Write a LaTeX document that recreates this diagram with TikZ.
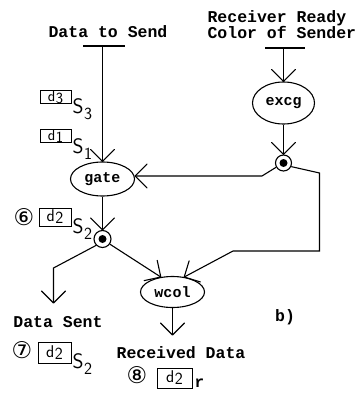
\documentclass[tikz,border=0pt]{standalone}
\usepackage{fontspec}
\setmonofont{Liberation Mono}
\newfontfamily\symfont{DejaVu Sans}
\usetikzlibrary{shapes.geometric,arrows.meta}

% plain open V head made of two straight strokes
\pgfdeclarearrow{
  name = OpenVee,
  parameters = {\the\pgfarrowlength,\the\pgfarrowwidth},
  setup code = {
    \pgfarrowssettipend{0pt}
    \pgfarrowssetlineend{-0.5\pgflinewidth}
    \pgfarrowssetvisualbackend{-\pgfarrowlength}
    \pgfarrowssetbackend{-\pgfarrowlength}
    \pgfarrowshullpoint{-\pgfarrowlength}{.5\pgfarrowwidth}
    \pgfarrowshullpoint{-\pgfarrowlength}{-.5\pgfarrowwidth}
    \pgfarrowshullpoint{0pt}{0pt}
    \pgfarrowssavethe\pgfarrowlength
    \pgfarrowssavethe\pgfarrowwidth
  },
  drawing code = {
    \pgfsetdash{}{0pt}
    \pgfsetroundjoin
    \pgfsetroundcap
    \pgfpathmoveto{\pgfqpoint{-\pgfarrowlength}{.5\pgfarrowwidth}}
    \pgfpathlineto{\pgfpointorigin}
    \pgfpathlineto{\pgfqpoint{-\pgfarrowlength}{-.5\pgfarrowwidth}}
    \pgfusepathqstroke
  },
  defaults = {length = 11pt, width = 24pt}
}

\newcommand{\tokd}[1]{d\kern0.3pt\raisebox{-0.12em}{#1}}
\newcommand{\tokS}[1]{S\kern0.5pt\raisebox{-0.28em}{\fontsize{17}{17}\selectfont #1}}

\begin{document}
\begin{tikzpicture}[x=1pt,y=-1pt,
  line width=1.1pt,
  proc/.style={draw,ellipse,inner sep=0pt,font=\ttfamily\bfseries\fontsize{15}{15}\selectfont},
  junc/.style={draw,circle,minimum size=17pt,inner sep=0pt,
    path picture={\fill (path picture bounding box.center) circle (4pt);}},
  flow/.style={-{OpenVee[length=12pt,width=24pt]}},
  lbl/.style={font=\ttfamily\bfseries\fontsize{16.5}{17}\selectfont,inner sep=0pt},
  tok/.style={draw,line width=0.9pt,inner sep=0pt,font=\sffamily\fontsize{17}{17}\selectfont},
  tokS/.style={draw,line width=0.9pt,inner sep=0pt,font=\sffamily\fontsize{15.5}{15.5}\selectfont},
  sub/.style={anchor=west,inner sep=0pt,font=\sffamily\fontsize{21}{21}\selectfont},
  num/.style={inner sep=0pt,font=\symfont\fontsize{23}{23}\selectfont}
]
\useasboundingbox (0,0) rectangle (362,393);

% processes
\node[proc,minimum width=64pt,minimum height=34pt] (gate) at (102.5,179) {gate};
\node[proc,minimum width=62pt,minimum height=42pt] (excg) at (283.5,103) {excg};
\node[proc,minimum width=64pt,minimum height=31pt] (wcol) at (172.5,292) {wcol};

% junctions
\node[junc] (jsend) at (102.5,239) {};
\node[junc,minimum size=16pt] (jrecv) at (283.5,163) {};

% input bars
\coordinate (inA) at (102.5,46);
\coordinate (inB) at (283.5,48);
\draw (83,46) -- (125,46);
\draw (265,48) -- (305,48);

% external labels
\node[lbl] (tsend) at (108,32) {Data to Send};
\node[lbl,anchor=west,align=left] (trecv) at (207,25) {Receiver Ready\\[-1pt]Color of Sender};
\node[lbl] (tsent) at (58,322) {Data Sent};
\node[lbl] (tdata) at (181,353) {Received Data};
\node[lbl] (tb) at (285,317) {b)};

% bend points
\coordinate (k1) at (262,176);
\coordinate (k2) at (319.5,173);
\coordinate (k3) at (319.5,251);
\coordinate (k4) at (233,251);
\coordinate (k5) at (53.5,268);
\coordinate (outSent) at (53.5,303);
\coordinate (outRecv) at (172.5,335);

% connectors
\draw[flow] (inA) -- (inA |- gate.north);
\draw[flow] (inB) -- (inB |- excg.north);
\draw[flow] (excg.south) -- (jrecv.north);
\draw[flow] (jrecv.210) -- (k1) -- (k1 -| gate.east);
\draw[flow] (jrecv.-25) -- (k2) -- (k3) -- (k4) -- (wcol.52);
\draw[flow] (gate.south) -- (jsend.north);
\draw[flow] (jsend.225) -- (k5) -- (outSent);
\draw[flow] (jsend.-35) -- (wcol.128);
\draw[flow] (wcol.south) -- (outRecv);

% tokens
\node[tokS,minimum width=31pt,minimum height=12pt] (d3) at (55.5,97) {\tokd{3}};
\node[sub] (s3) at (72,109) {\tokS{3}};
\node[tokS,minimum width=31pt,minimum height=12pt] (d1) at (55.5,136) {\tokd{1}};
\node[sub] (s1) at (72,149) {\tokS{1}};

\node[num] (n6) at (24,217) {⑥};
\node[tok,minimum width=32pt,minimum height=18pt] (d2a) at (55,217) {\tokd{2}};
\node[sub] (s2a) at (72,229) {\tokS{2}};

\node[num] (n7) at (22,350) {⑦};
\node[tok,minimum width=33pt,minimum height=21pt] (d2b) at (54.5,352.5) {\tokd{2}};
\node[sub] (s2b) at (72,364) {\tokS{2}};

\node[num] (n8) at (137,375) {⑧};
\node[tok,minimum width=35pt,minimum height=20pt] (d2c) at (174.5,378) {\tokd{2}};
\node[anchor=west,inner sep=0pt,font=\ttfamily\bfseries\fontsize{16}{16}\selectfont] (rr) at (194,383) {r};
\end{tikzpicture}
\end{document}
